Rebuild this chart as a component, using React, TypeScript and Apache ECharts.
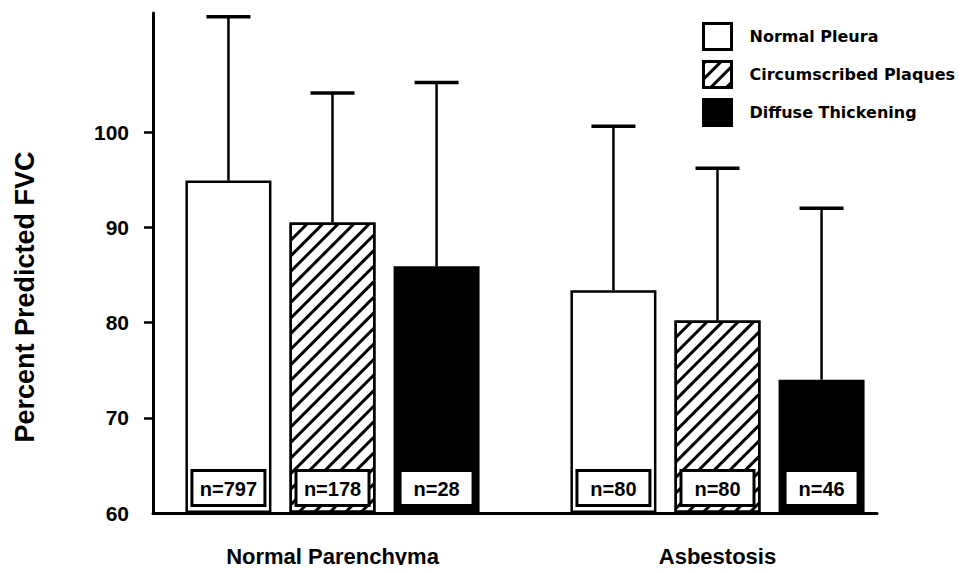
import React, { useEffect, useRef } from "react";
import * as echarts from "echarts";

const categories = ["Normal Parenchyma", "Asbestosis"];
const seriesNames = ["Normal Pleura", "Circumscribed Plaques", "Diffuse Thickening"];

const normalPleuraMean = [94.9, 83.4];
const plaquesMean = [90.5, 80.2];
const diffuseMean = [85.9, 74.0];

const normalPleuraUpper = [112.1, 100.6];
const plaquesUpper = [104.1, 96.2];
const diffuseUpper = [105.2, 92.0];

const normalPleuraN = [797, 80];
const plaquesN = [178, 80];
const diffuseN = [28, 46];

const yLabelValues = [60, 70, 80, 90, 100];
const yTickValues = [70, 80, 90, 100];
const yMin = 60;
const yMax = 112.5;

const yTitle = "Percent Predicted FVC";

const BAR_W = 86;
const BAR_GAP = 0.21;
const BAR_STEP = BAR_W * (1 + BAR_GAP);

const LABEL_FONT = "Liberation Sans, Arial, Helvetica, sans-serif";
const LEGEND_FONT = "DejaVu Sans, sans-serif";

export default function App() {
  const ref = useRef<HTMLDivElement>(null);

  useEffect(() => {
    if (!ref.current) return;
    const chart = echarts.init(ref.current, null, { renderer: "svg" });

    const means = [normalPleuraMean, plaquesMean, diffuseMean];
    const uppers = [normalPleuraUpper, plaquesUpper, diffuseUpper];
    const ns = [normalPleuraN, plaquesN, diffuseN];

    const fills = ["#fff", "#fff", "#000"];

    const barSeries = seriesNames.map((name, t) => ({
      name,
      type: "bar",
      xAxisIndex: 1,
      yAxisIndex: 1,
      barWidth: BAR_W,
      barGap: `${BAR_GAP * 100}%`,
      data: means[t],
      z: 2,
      itemStyle: {
        color: fills[t],
        borderColor: "#000",
        borderWidth: 2.5,
        ...(t === 1
          ? {
              decal: {
                symbol: "rect",
                symbolSize: 1,
                dashArrayX: [1, 0],
                dashArrayY: [3, 8],
                rotation: -Math.PI / 4,
                color: "#000",
              },
            }
          : {}),
      },
      label: {
        show: true,
        position: "insideBottom",
        distance: 9,
        formatter: (p: any) => `{n|n=${ns[t][p.dataIndex]}}`,
        backgroundColor: "#fff",
        borderColor: "#000",
        borderWidth: 3,
        padding: [5, 4, 3, 4],
        rich: {
          n: {
            width: 62,
            align: "center",
            fontSize: 20,
            lineHeight: 24,
            fontWeight: "bold",
            fontFamily: LABEL_FONT,
            color: "#000",
          },
        },
      },
      emphasis: { disabled: true },
    }));

    const errData: number[][] = [];
    for (let t = 0; t < 3; t++) {
      for (let c = 0; c < categories.length; c++) {
        errData.push([c, means[t][c], uppers[t][c], t]);
      }
    }

    const errSeries = {
      type: "custom",
      xAxisIndex: 1,
      yAxisIndex: 1,
      z: 5,
      encode: { x: 0, y: [1, 2] },
      data: errData,
      renderItem: (params: any, api: any) => {
        const c = api.value(0);
        const mean = api.value(1);
        const up = api.value(2);
        const t = api.value(3);
        const base = api.coord([c, mean]);
        const top = api.coord([c, up]);
        const x = base[0] + (t - 1) * BAR_STEP;
        return {
          type: "group",
          children: [
            {
              type: "line",
              shape: { x1: x, y1: base[1], x2: x, y2: top[1] },
              style: { stroke: "#000", lineWidth: 2.5 },
            },
            {
              type: "line",
              shape: { x1: x - 22, y1: top[1], x2: x + 22, y2: top[1] },
              style: { stroke: "#000", lineWidth: 3.5 },
            },
          ],
        };
      },
    };

    chart.setOption({
      animation: false,
      backgroundColor: "#fff",
      grid: [
        { left: 153, right: 87, top: 13, bottom: 60 },
        { left: 140, right: 54, top: 13, bottom: 60 },
      ],
      legend: {
        orient: "vertical",
        left: 697,
        top: 17,
        itemWidth: 28,
        itemHeight: 26,
        itemGap: 9,
        icon: "rect",
        selectedMode: false,
        data: seriesNames,
        itemStyle: { borderWidth: 3, borderColor: "#000" },
        textStyle: {
          fontFamily: LEGEND_FONT,
          fontWeight: "bold",
          fontSize: 16,
          color: "#000",
          padding: [0, 0, 0, 13],
        },
      },
      xAxis: [
        {
          type: "category",
          gridIndex: 0,
          data: categories,
          axisLine: { show: true, lineStyle: { color: "#000", width: 3 } },
          axisTick: { show: false },
          axisLabel: { show: false },
          splitLine: { show: false },
        },
        {
          type: "category",
          gridIndex: 1,
          data: categories,
          axisLine: { show: false },
          axisTick: { show: false },
          splitLine: { show: false },
          axisLabel: {
            show: true,
            margin: 32,
            fontSize: 22,
            fontWeight: "bold",
            fontFamily: LABEL_FONT,
            color: "#000",
          },
        },
      ],
      yAxis: [
        {
          type: "value",
          gridIndex: 0,
          min: yMin,
          max: yMax,
          interval: 10,
          axisLine: { show: true, lineStyle: { color: "#000", width: 3 } },
          axisTick: {
            show: true,
            length: 9,
            customValues: yTickValues,
            lineStyle: { color: "#000", width: 2.5 },
          },
          axisLabel: {
            show: true,
            customValues: yLabelValues,
            margin: 24,
            fontSize: 21,
            fontWeight: "bold",
            fontFamily: LABEL_FONT,
            color: "#000",
          },
          splitLine: { show: false },
        },
        {
          type: "value",
          gridIndex: 1,
          min: yMin,
          max: yMax,
          interval: 10,
          startValue: yMin,
          show: false,
          splitLine: { show: false },
        },
      ],
      graphic: [
        {
          type: "text",
          x: 25,
          y: 297,
          rotation: Math.PI / 2,
          style: {
            text: yTitle,
            fontSize: 27,
            fontWeight: "bold",
            fontFamily: LABEL_FONT,
            fill: "#000",
            align: "center",
            verticalAlign: "middle",
          },
        },
      ],
      series: [...barSeries, errSeries],
    });

    return () => chart.dispose();
  }, []);

  return <div ref={ref} style={{ width: 964, height: 573, margin: -8 }} />;
}
